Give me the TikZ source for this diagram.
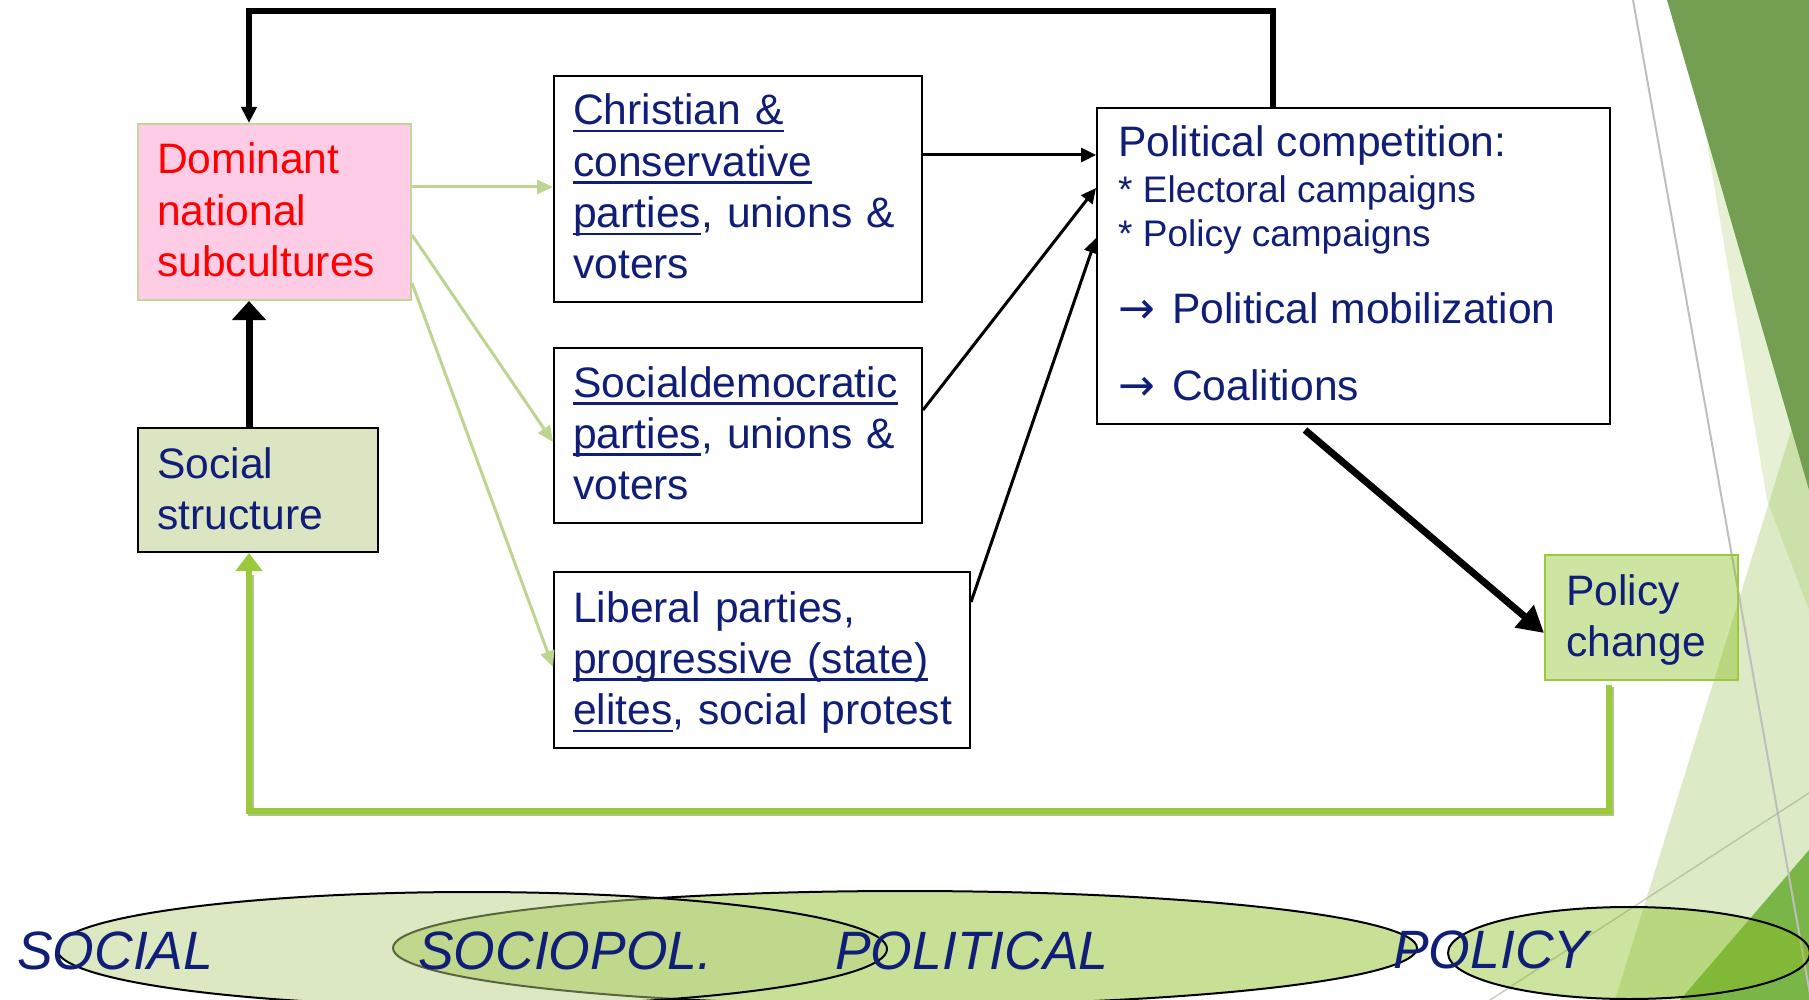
\documentclass[tikz,border=0pt]{standalone}
\usepackage{fontspec}
\setmainfont{Liberation Sans}
\newfontfamily\arrowfont{DejaVu Sans}
\newcommand{\myul}[1]{\setbox0\hbox{#1}\leavevmode\rlap{\rule[-7.5pt]{\wd0}{2.5pt}}\box0}
\newcommand{\myarrow}{{\arrowfont\fontsize{44}{51}\selectfont →}\hspace{17pt}}
\usetikzlibrary{arrows.meta,calc}
\definecolor{navy}{RGB}{16,30,120}
\definecolor{dompink}{RGB}{255,204,230}
\definecolor{dombord}{RGB}{195,214,155}
\definecolor{socfill}{RGB}{219,229,193}
\definecolor{elG}{RGB}{139,190,34}
\definecolor{elA}{RGB}{184,208,131}
\definecolor{bgA}{RGB}{156,196,88}
\definecolor{darkbg}{RGB}{116,159,82}
\definecolor{brgreen}{RGB}{122,181,71}
\definecolor{thingreen}{RGB}{190,212,145}
\definecolor{loopgreen}{RGB}{154,202,60}
\definecolor{loopshadow}{RGB}{120,160,50}
\tikzset{
  box/.style={draw=black, line width=2pt, fill=white, anchor=north west, inner sep=0pt},
  txt/.style={anchor=base west, inner sep=0pt, text width=420pt, align=left,
              font=\fontsize{42.6}{51.3}\selectfont, text=navy},
  ln/.style={anchor=base west, inner sep=0pt, font=\fontsize{42.6}{51}\selectfont, text=navy},
  smallln/.style={ln, font=\fontsize{37}{42}\selectfont},
  lbl/.style={anchor=base west, inner sep=0pt, font=\fontsize{54}{60}\selectfont\itshape,
              text=navy, xscale=0.99},
  thinarr/.style={draw=black, line width=3pt, -{Triangle[length=15pt,width=14pt]}},
  greenarr/.style={draw=thingreen, line width=3pt, -{Triangle[length=16pt,width=14pt]}},
  ellipseline/.style={draw=black, line width=2pt}
}
\begin{document}
\begin{tikzpicture}[x=1pt,y=-1pt]
\useasboundingbox (0,0) rectangle (1809,1000);
\clip (0,0) rectangle (1809,1000);
% ---- background facets
\fill[bgA, fill opacity=0.25] (1683,0) -- (1767,500) -- (1809,610) -- (1809,0) -- cycle;
\fill[bgA, fill opacity=0.35] (1809,373) -- (1615,1000) -- (1809,1000) -- cycle;
\fill[darkbg] (1667,0) -- (1809,0) -- (1809,490) -- cycle;
\fill[brgreen] (1809,850) -- (1680,1000) -- (1809,1000) -- cycle;
\draw[color={rgb,255:red,190;green,190;blue,190}, line width=2pt] (1633,0) -- (1811,1000);
\draw[color={rgb,255:red,160;green,175;blue,150}, draw opacity=0.6, line width=1.5pt] (1809,793) -- (1490,1000);
% ---- bottom ellipses
\filldraw[fill=elG, fill opacity=0.475, ellipseline] (905,948) ellipse [x radius=512, y radius=57];
\filldraw[fill=elA, fill opacity=0.49, ellipseline] (472,949) ellipse [x radius=415, y radius=57];
\filldraw[fill=elG, fill opacity=0.43, ellipseline] (1629,953) ellipse [x radius=181, y radius=46];
\node[lbl] (lsocial) at (17,969) {SOCIAL};
\node[lbl] (lsociopol) at (418,969) {SOCIOPOL.};
\node[lbl] (lpolitical) at (835,969) {POLITICAL};
\node[lbl] (lpolicy) at (1393,968) {POLICY};
% ---- boxes
\node[box, fill=dompink, draw=dombord, minimum width=273, minimum height=176] (dom) at (137,123) {};
\node[box, fill=socfill, minimum width=240, minimum height=124] (soc) at (137,427) {};
\node[box, minimum width=368, minimum height=226] (chr) at (553,75) {};
\node[box, minimum width=368, minimum height=175] (sd) at (553,347) {};
\node[box, minimum width=416, minimum height=176] (lib) at (553,571) {};
\node[box, minimum width=513, minimum height=316] (pol) at (1096,107) {};
\node[box, fill=elG, fill opacity=0.42, draw=loopgreen, minimum width=193, minimum height=125] (pc) at (1544,554) {};
% ---- texts
\node[txt, text=red] (domt) at (157,174) {Dominant\\national\\subcultures};
\node[txt] (soct) at (157,478) {Social\\structure};
\node[txt] (chrt) at (573,125) {\myul{Christian \&}\\\myul{conservative}\\\myul{parties}, unions \&\\voters};
\node[txt] (sdt) at (573,397) {\myul{Socialdemocratic}\\\myul{parties}, unions \&\\voters};
\node[txt] (libt) at (573,622) {Liberal parties,\\\myul{progressive (state)}\\\myul{elites}, social protest};
\node[txt] (pct) at (1566,605) {Policy\\change};
\node[ln] (p1) at (1118,157) {Political competition:};
\node[smallln] (p2) at (1118,203) {* Electoral campaigns};
\node[smallln] (p3) at (1118,247) {* Policy campaigns};
\node[ln] (p4) at (1118,323) {\myarrow Political mobilization};
\node[ln] (p5) at (1118,400) {\myarrow Coalitions};
% ---- connectors
\draw[black, line width=6pt, -{Triangle[length=16pt,width=15pt]}]
  (pol.north -| 1273,0) -- (1273,11) -| (dom.north -| 249,0);
\draw[black, line width=7pt, -{Triangle[length=19pt,width=33pt]}]
  (soc.north -| 249,0) -- (dom.south -| 249,0);
\draw[greenarr] (dom.east |- 0,187) -- (chr.west |- 0,187);
\draw[greenarr] (dom.east |- 0,235) -- (sd.west |- 0,442);
\draw[greenarr] (dom.east |- 0,283) -- (lib.west |- 0,667);
\draw[thinarr] (chr.east |- 0,155) -- (pol.west |- 0,155);
\draw[thinarr] (sd.east |- 0,410) -- (pol.west |- 0,188);
\draw[thinarr] (lib.east |- 0,602) -- (pol.west |- 0,238);
\draw[black, line width=7pt, -{Triangle[length=26pt,width=28pt]}]
  (pol.south -| 1305,0) ++(0,5) -- (pc.west |- 0,633);
\draw[loopshadow, draw opacity=0.6, line width=6pt]
  ([xshift=2pt,yshift=-2pt]pc.south -| 1609,0) ++(0,4) -- (1611,813) -- (251,813) -- (251,575);
\draw[loopgreen, line width=6pt, -{Triangle[length=18pt,width=26pt]}]
  (pc.south -| 1609,0) ++(0,4) -- (1609,811) -| (soc.south -| 249,0);
\end{tikzpicture}
\end{document}
